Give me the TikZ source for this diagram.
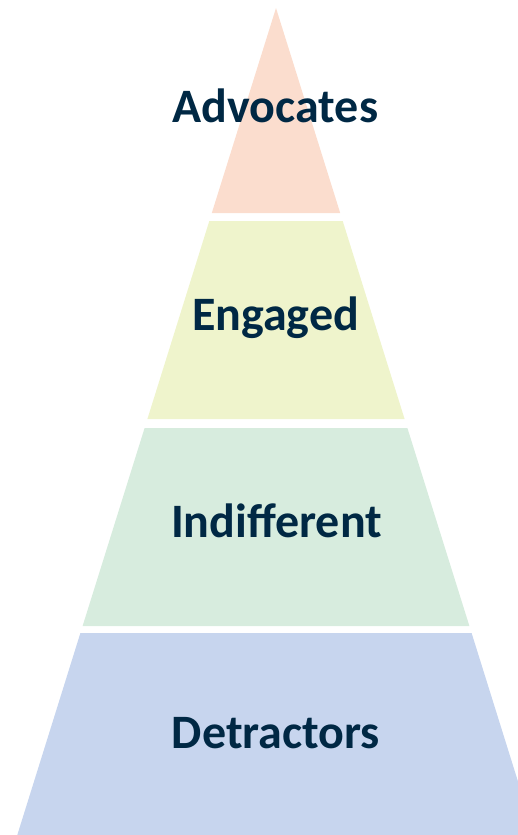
\documentclass[tikz,border=0pt]{standalone}
\usepackage{fontspec}
\setmainfont{Carlito}
\definecolor{advfill}{RGB}{251,221,206}
\definecolor{engfill}{RGB}{239,244,204}
\definecolor{indfill}{RGB}{215,236,222}
\definecolor{detfill}{RGB}{199,213,238}
\definecolor{labtext}{RGB}{0,40,68}
\begin{document}
\begin{tikzpicture}[x=1pt,y=-1pt,
  band/.style={draw=none},
  lab/.style={anchor=base,inner sep=0pt,text=labtext,font=\fontsize{48}{52}\selectfont\bfseries}]
\useasboundingbox (0,0) rectangle (518,835);
\clip (0,0) rectangle (518,835);
% apex (276,8), slope 0.313 px/px
\fill[band,advfill] (276,8) -- (340.2,213) -- (211.8,213) -- cycle;
\fill[band,engfill] (209.3,221) -- (342.7,221) -- (404.6,419) -- (147.4,419) -- cycle;
\fill[band,indfill] (144.6,428) -- (407.4,428) -- (469.4,626) -- (82.6,626) -- cycle;
\fill[band,detfill] (80.4,633) -- (471.6,633) -- (536.9,842) -- (15.1,842) -- cycle;
\node[lab] (adv) at (275.5,122) {Advocates};
\node[lab] (eng) at (275.5,330) {Engaged};
\node[lab] (ind) at (276.5,537) {Indifferent};
\node[lab] (det) at (276,748) {Detractors};
\end{tikzpicture}
\end{document}
